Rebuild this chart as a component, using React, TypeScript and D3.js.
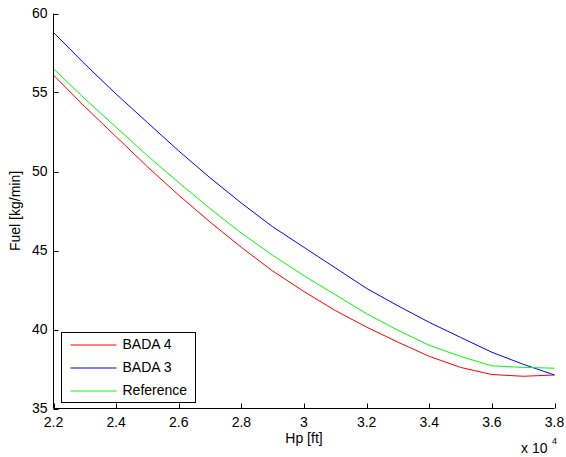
import React from 'react';
import * as d3 from 'd3';

// altitude in units of 10^4 ft
const altitudes = [2.2, 2.3, 2.4, 2.5, 2.6, 2.7, 2.8, 2.9, 3.0, 3.1, 3.2, 3.3, 3.4, 3.5, 3.6, 3.7, 3.8];
const bada4 = [56.1, 54.1, 52.2, 50.3, 48.5, 46.8, 45.2, 43.7, 42.4, 41.2, 40.15, 39.2, 38.3, 37.6, 37.15, 37.04, 37.12];
const bada3 = [58.8, 56.8, 54.9, 53.1, 51.3, 49.6, 48.0, 46.5, 45.2, 43.9, 42.6, 41.5, 40.45, 39.5, 38.56, 37.8, 37.12];
const reference = [56.5, 54.6, 52.8, 51.0, 49.3, 47.65, 46.1, 44.7, 43.4, 42.2, 41.0, 39.95, 39.0, 38.3, 37.7, 37.6, 37.55];

const xTicks = [2.2, 2.4, 2.6, 2.8, 3, 3.2, 3.4, 3.6, 3.8];
const yTicks = [35, 40, 45, 50, 55, 60];

const series = [
  { name: 'BADA 4', values: bada4, color: '#ff0000' },
  { name: 'BADA 3', values: bada3, color: '#0000ff' },
  { name: 'Reference', values: reference, color: '#00ff00' },
];

const W = 566;
const H = 457;
const left = 53.5;
const right = 554.5;
const top = 13.5;
const bottom = 408.5;
const font = 'Liberation Sans, Arial, Helvetica, sans-serif';
const fs = 14;

export default function App() {
  const x = d3.scaleLinear().domain([2.2, 3.8]).range([left, right]);
  const y = d3.scaleLinear().domain([35, 60]).range([bottom, top]);

  const line = d3.line<number>()
    .x((d, i) => x(altitudes[i]))
    .y(d => y(d));

  return (
    <svg width={W} height={H} style={{ position: 'absolute', left: 0, top: 0, background: '#fff' }}
      fontFamily={font}>
      <rect width={W} height={H} fill="#fff" />
      {series.map(s => (
        <path key={s.name} d={line(s.values) || ''} fill="none" stroke={s.color} strokeWidth={1} />
      ))}
      {/* axes */}
      <line x1={left} x2={left} y1={top} y2={bottom} stroke="#000" />
      <line x1={left} x2={right} y1={bottom} y2={bottom} stroke="#000" />
      {yTicks.map(t => (
        <g key={'y' + t}>
          <line x1={left} x2={left + 5} y1={Math.round(y(t)) + 0.5} y2={Math.round(y(t)) + 0.5} stroke="#000" />
          <text x={left - 6} y={y(t)} dy="0.35em" textAnchor="end" fontSize={fs}>{t}</text>
        </g>
      ))}
      {xTicks.map(t => (
        <g key={'x' + t}>
          <line x1={Math.round(x(t)) + 0.5} x2={Math.round(x(t)) + 0.5} y1={bottom} y2={bottom - 5} stroke="#000" />
          <text x={x(t)} y={bottom + 18} textAnchor="middle" fontSize={fs}>{t}</text>
        </g>
      ))}
      <text x={(left + right) / 2} y={443} textAnchor="middle" fontSize={fs}>Hp [ft]</text>
      <text transform={`translate(20,${(top + bottom) / 2}) rotate(-90)`} textAnchor="middle" fontSize={fs}>Fuel [kg/min]</text>
      <text x={521} y={453} fontSize={fs}>x 10</text>
      <text x={552} y={444} fontSize={9}>4</text>
      {/* legend */}
      <g transform="translate(61.5,332.5)">
        <rect width={134} height={70} fill="#fff" stroke="#000" />
        {series.map((s, i) => (
          <g key={s.name} transform={`translate(0,${12 + i * 23})`}>
            <line x1={9} x2={55} y1={0.5} y2={0.5} stroke={s.color} />
            <text x={61} y={0} dy="0.35em" fontSize={fs}>{s.name}</text>
          </g>
        ))}
      </g>
    </svg>
  );
}
